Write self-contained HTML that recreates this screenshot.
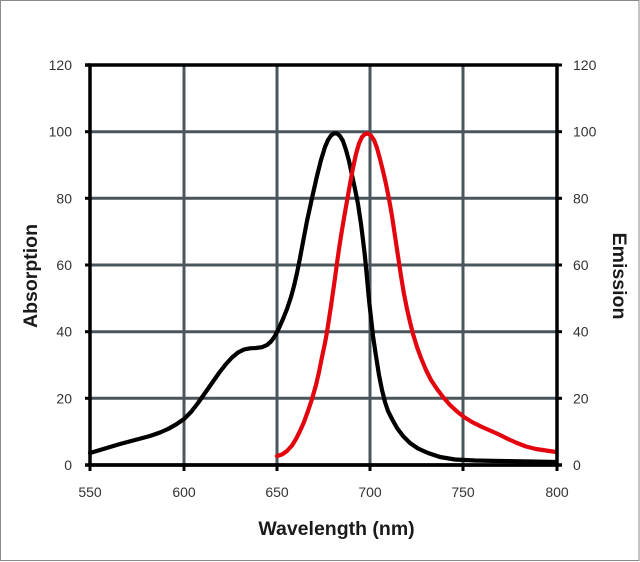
<!DOCTYPE html>
<html>
<head>
<meta charset="utf-8">
<style>
html,body{margin:0;padding:0;background:#fff;}
svg{display:block;}
text{font-family:"Liberation Sans",sans-serif;}
</style>
</head>
<body>
<svg width="640" height="562" viewBox="0 0 640 562" xmlns="http://www.w3.org/2000/svg">
<rect x="0" y="0" width="640" height="562" fill="#fff"/>
<rect x="0.5" y="0.5" width="638.5" height="560" fill="none" stroke="#8a8a8a" stroke-width="1"/>

<!-- grid -->
<g stroke="#4b555c" stroke-width="3">
<line x1="184" y1="65" x2="184" y2="465"/>
<line x1="277" y1="65" x2="277" y2="465"/>
<line x1="370" y1="65" x2="370" y2="465"/>
<line x1="463" y1="65" x2="463" y2="465"/>
<line x1="90" y1="131.7" x2="557" y2="131.7"/>
<line x1="90" y1="198.3" x2="557" y2="198.3"/>
<line x1="90" y1="265" x2="557" y2="265"/>
<line x1="90" y1="331.7" x2="557" y2="331.7"/>
<line x1="90" y1="398.3" x2="557" y2="398.3"/>
</g>

<!-- curves -->
<polyline fill="none" stroke="#000" stroke-width="4.2" stroke-linejoin="round" stroke-linecap="round"
points="90,453 105,448.5 120,444 135,440 150,436 160,432.5 168,429 176,424.5 184,419 191,412 198,403 205,393 212,383 219,373 226,364 232,357.5 238,352.5 244,349.5 250,348.3 256,348 262,347.2 267,345 271,341.5 275,336 279,328 283,319 287,309 291,297 294,286 297,273 300,258 303,242 307,221 312,198 317,176 321,160 325,147 328,140 331,135.5 334,133.3 337,133.5 340,136 343,141 346,150 349,161 352,175 355,189 358,204 361,224 363,240 365,257 367,278 369,300 371,318 373,336 376,356 379,375 382,390 385,402 388,411 392,419 397,428 403,436 410,443 418,448.5 428,453 440,457 455,459.5 475,460.5 500,461 530,461.5 556,462"/>

<polyline fill="none" stroke="#e3060e" stroke-width="4.2" stroke-linejoin="round" stroke-linecap="round"
points="277,456 282,454.5 287,451 292,445.5 296,439 300,431 304,422 308,411 312,399 316,385 319,372 322,357 325,343 327,332 329,319 331,306 333,292 335,278 337,263 339,249 341,236 344,218 347,201 350,184 353,168 356,154 359,143.5 362,137 365,134 368,133.5 371,135.5 374,140 377,148 380,159 383,171 386,184 389,199 392,216 395,236 398,256 401,276 404,294 407,309 410,322 413,334 417,347 421,358 426,370 431,380 437,389 443,397 450,405 457,411.5 464,417 472,422 481,426.5 490,430.5 499,434.5 508,439 517,443 526,446.5 536,449 546,450.5 556,452"/>

<!-- frame -->
<rect x="90" y="65" width="467" height="400" fill="none" stroke="#000" stroke-width="3.5"/>
<line x1="85" y1="65" x2="90" y2="65" stroke="#000" stroke-width="3.5"/>
<line x1="85" y1="465" x2="562" y2="465" stroke="#000" stroke-width="3.5"/>

<!-- ticks -->
<g stroke="#000" stroke-width="3">
<line x1="90" y1="465" x2="90" y2="471"/>
<line x1="184" y1="465" x2="184" y2="471"/>
<line x1="277" y1="465" x2="277" y2="471"/>
<line x1="370" y1="465" x2="370" y2="471"/>
<line x1="463" y1="465" x2="463" y2="471"/>
<line x1="557" y1="465" x2="557" y2="471"/>
<line x1="85" y1="131.7" x2="90" y2="131.7"/>
<line x1="85" y1="198.3" x2="90" y2="198.3"/>
<line x1="85" y1="265" x2="90" y2="265"/>
<line x1="85" y1="331.7" x2="90" y2="331.7"/>
<line x1="85" y1="398.3" x2="90" y2="398.3"/>
<line x1="557" y1="65" x2="562" y2="65"/>
<line x1="557" y1="131.7" x2="562" y2="131.7"/>
<line x1="557" y1="198.3" x2="562" y2="198.3"/>
<line x1="557" y1="265" x2="562" y2="265"/>
<line x1="557" y1="331.7" x2="562" y2="331.7"/>
<line x1="557" y1="398.3" x2="562" y2="398.3"/>
</g>

<!-- left labels -->
<g font-size="14" fill="#333" text-anchor="end">
<text x="72" y="70">120</text>
<text x="72" y="136.7">100</text>
<text x="72" y="203.3">80</text>
<text x="72" y="270">60</text>
<text x="72" y="336.7">40</text>
<text x="72" y="403.3">20</text>
<text x="72" y="470">0</text>
</g>
<!-- right labels -->
<g font-size="14" fill="#333" text-anchor="start">
<text x="573" y="70">120</text>
<text x="573" y="136.7">100</text>
<text x="573" y="203.3">80</text>
<text x="573" y="270">60</text>
<text x="573" y="336.7">40</text>
<text x="573" y="403.3">20</text>
<text x="573" y="470">0</text>
</g>
<!-- bottom labels -->
<g font-size="14" fill="#333" text-anchor="middle">
<text x="90" y="497">550</text>
<text x="184" y="497">600</text>
<text x="277" y="497">650</text>
<text x="370" y="497">700</text>
<text x="463" y="497">750</text>
<text x="557" y="497">800</text>
</g>

<!-- axis titles -->
<text x="336.5" y="535" font-size="19.5" font-weight="bold" fill="#1a1a1a" text-anchor="middle">Wavelength (nm)</text>
<text transform="translate(37,276) rotate(-90)" font-size="19.5" font-weight="bold" fill="#1a1a1a" text-anchor="middle">Absorption</text>
<text transform="translate(613,276) rotate(90)" font-size="19.5" font-weight="bold" fill="#1a1a1a" text-anchor="middle">Emission</text>
</svg>
</body>
</html>
